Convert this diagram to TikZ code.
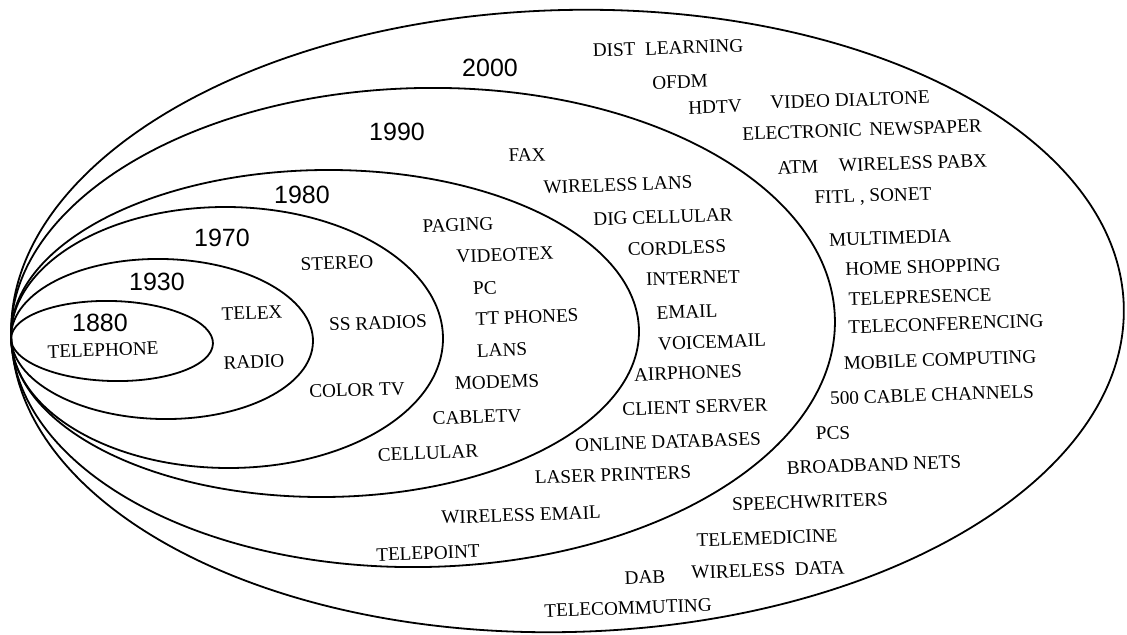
\documentclass[tikz,border=0pt]{standalone}
\usepackage{fontspec}
\setmainfont{Liberation Serif}
\newfontfamily\yearfont{Liberation Sans}
\begin{document}
\begin{tikzpicture}[x=0.5pt, y=-0.5pt,
  ring/.style={line width=0.9pt},
  lbl/.style={font=\fontsize{9.6}{11}\selectfont, inner sep=0pt, rotate=2},
  yr/.style={font=\yearfont\fontsize{12.5}{14}\selectfont, inner sep=0pt}]
\useasboundingbox (0,0) rectangle (1127,635);
% nested ellipses, all touching at the left
\draw[ring, rotate around={-1.5:(112,341)}] (112,341) ellipse [x radius=101, y radius=40];
\draw[ring, rotate around={-1.1:(162,339)}] (162,339) ellipse [x radius=151, y radius=80];
\draw[ring, rotate around={-0.4:(227,337.5)}] (227,337.5) ellipse [x radius=216, y radius=130.5];
\draw[ring, rotate around={0.46:(325,333.5)}] (325,333.5) ellipse [x radius=314, y radius=163.5];
\draw[ring, rotate around={1.18:(423,327.5)}] (423,327.5) ellipse [x radius=412, y radius=239.5];
\draw[ring, rotate around={1.55:(567.5,321)}] (567.5,321) ellipse [x radius=556.5, y radius=311];
% 1880
\node[yr] (y1880) at (100,323) {1880};
\node[lbl] (telephone) at (103,350) {TELEPHONE};
% 1930
\node[yr] (y1930) at (157,282) {1930};
\node[lbl] (telex) at (252,313) {TELEX};
\node[lbl] (radio) at (254,362) {RADIO};
% 1970
\node[yr] (y1970) at (222,238) {1970};
\node[lbl] (stereo) at (337,263) {STEREO};
\node[lbl] (ssradios) at (378,323) {SS RADIOS};
\node[lbl] (colortv) at (357,390) {COLOR TV};
% 1980
\node[yr] (y1980) at (302,195) {1980};
\node[lbl] (paging) at (458,225) {PAGING};
\node[lbl] (videotex) at (505,255) {VIDEOTEX};
\node[lbl] (pc) at (485,288) {PC};
\node[lbl] (ttphones) at (527,317) {TT PHONES};
\node[lbl] (lans) at (502,350) {LANS};
\node[lbl] (modems) at (497,382) {MODEMS};
\node[lbl] (cabletv) at (477,417) {CABLETV};
\node[lbl] (cellular) at (428,453) {CELLULAR};
% 1990
\node[yr] (y1990) at (397,132) {1990};
\node[lbl] (fax) at (527,155) {FAX};
\node[lbl] (wlans) at (618,185) {WIRELESS LANS};
\node[lbl] (digcell) at (663,217) {DIG CELLULAR};
\node[lbl] (cordless) at (677,248) {CORDLESS};
\node[lbl] (internet) at (693,278) {INTERNET};
\node[lbl] (email) at (687,312) {EMAIL};
\node[lbl] (voicemail) at (712,342) {VOICEMAIL};
\node[lbl] (airphones) at (688,373) {AIRPHONES};
\node[lbl] (clientserver) at (695,407) {CLIENT SERVER};
\node[lbl] (onlinedb) at (668,442) {ONLINE DATABASES};
\node[lbl] (laser) at (613,475) {LASER PRINTERS};
\node[lbl] (wemail) at (521,515) {WIRELESS EMAIL};
\node[lbl] (telepoint) at (428,553) {TELEPOINT};
% 2000
\node[yr] (y2000) at (490,68) {2000};
\node[lbl] (dist) at (668,48) {DIST\hspace{0.5em}LEARNING};
\node[lbl] (ofdm) at (680,82) {OFDM};
\node[lbl] (hdtv) at (715,107) {HDTV};
\node[lbl] (vdial) at (850,100) {VIDEO DIALTONE};
\node[lbl] (enews) at (862,130) {ELECTRONIC\hspace{0.4em}NEWSPAPER};
\node[lbl] (atm) at (798,167) {ATM};
\node[lbl] (wpabx) at (913,163) {WIRELESS PABX};
\node[lbl] (fitl) at (873,197) {FITL , SONET};
\node[lbl] (multimedia) at (890,238) {MULTIMEDIA};
\node[lbl] (homeshop) at (923,267) {HOME SHOPPING};
\node[lbl] (telepres) at (920,297) {TELEPRESENCE};
\node[lbl] (teleconf) at (946,324) {TELECONFERENCING};
\node[lbl] (mobile) at (940,360) {MOBILE COMPUTING};
\node[lbl] (cable500) at (932,395) {500 CABLE CHANNELS};
\node[lbl] (pcs) at (833,433) {PCS};
\node[lbl] (broadband) at (874,465) {BROADBAND NETS};
\node[lbl] (speech) at (810,502) {SPEECHWRITERS};
\node[lbl] (telemed) at (767,538) {TELEMEDICINE};
\node[lbl] (dab) at (645,577) {DAB};
\node[lbl] (wdata) at (768,570) {WIRELESS\hspace{0.5em}DATA};
\node[lbl] (telecommuting) at (628,608) {TELECOMMUTING};
\end{tikzpicture}
\end{document}
